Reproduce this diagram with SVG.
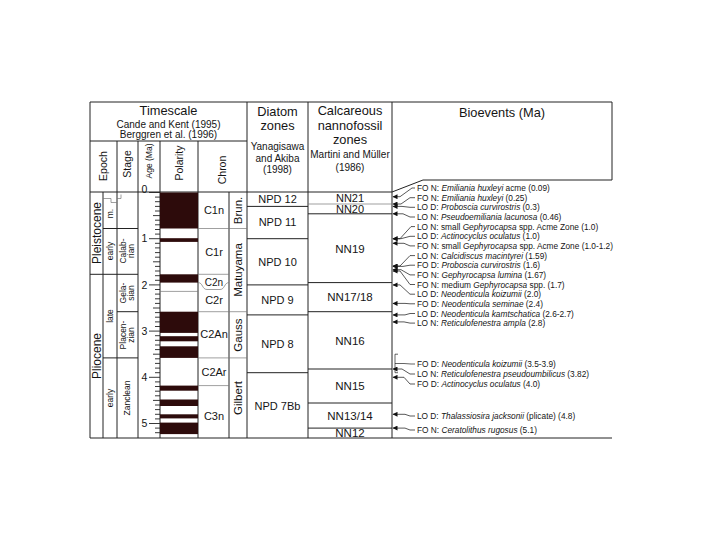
<svg xmlns="http://www.w3.org/2000/svg" width="720" height="540" viewBox="0 0 720 540">
<defs>
<style>
text{font-family:"Liberation Sans",Arial,sans-serif;fill:#151515;text-anchor:middle}
.ln{stroke:#222;stroke-width:1;fill:none}
.tl{stroke:#777;stroke-width:0.7;fill:none}
.tk{stroke:#222;stroke-width:0.9;fill:none}
.pol{fill:#2d0b0b}
.h1{font-size:12.8px}
.h2{font-size:10px}
.rh{font-size:10.5px}
.z{font-size:11px}
.nn{font-size:11.5px}
.ep{font-size:12px}
.pc{font-size:11.5px}
.sm{font-size:8.5px}
.ag{font-size:10.5px}
.ev{font-size:8.3px;text-anchor:start}
.lead{stroke:#111;stroke-width:0.7;fill:none;marker-start:url(#ah)}
</style>
<marker id="ah" viewBox="0 0 10 10" refX="1" refY="5" markerWidth="7" markerHeight="5" orient="auto" markerUnits="userSpaceOnUse">
<path d="M10,0 L0,5 L10,10 z" fill="#111"/>
</marker>
</defs>
<rect width="720" height="540" fill="#fff"/>

<g id="frame">
<path class="ln" d="M90,102H612V180 M90,102V438H612"/>
<path class="ln" d="M90,141H247 M90,192H392 M392,192L423,180H612"/>
<path class="ln" d="M247,102V438 M308,102V438 M392,102V438"/>
<path class="ln" d="M117,141V438 M138,141V438 M160,141V438 M198,141V438 M229,192V438 M103,192V438"/>
</g>

<g id="header">
<text class="h1" x="168.5" y="115">Timescale</text>
<text class="h2" x="168.5" y="127.5">Cande and Kent (1995)</text>
<text class="h2" x="168.5" y="138">Berggren et al. (1996)</text>
<text class="h1" x="277.5" y="115.5">Diatom</text>
<text class="h1" x="277.5" y="129.5">zones</text>
<text class="h2" x="277.5" y="150">Yanagisawa</text>
<text class="h2" x="277.5" y="161.5">and Akiba</text>
<text class="h2" x="277.5" y="173">(1998)</text>
<text class="h1" x="350" y="115">Calcareous</text>
<text class="h1" x="350" y="129.5">nannofossil</text>
<text class="h1" x="350" y="144">zones</text>
<text class="h2" x="350" y="158">Martini and Müller</text>
<text class="h2" x="350" y="170.5">(1986)</text>
<text class="h1" x="502" y="116.5">Bioevents (Ma)</text>
<text class="rh" transform="translate(103,166) rotate(-90)" dy=".35em">Epoch</text>
<text class="rh" transform="translate(127.5,164) rotate(-90)" dy=".35em">Stage</text>
<text class="sm" transform="translate(149,161) rotate(-90)" dy=".35em">Age (Ma)</text>
<text class="rh" transform="translate(179,163) rotate(-90)" dy=".35em">Polarity</text>
<text class="rh" transform="translate(222.5,170) rotate(-90)" dy=".35em">Chron</text>
</g>

<g id="epoch">
<path class="ln" d="M90,274.3H138 M103,228.5H138 M103,357.9H138 M117,311.7H138"/>
<path class="tl" d="M103,198.5H111V202.5H117 M117,198.5H121V194.5"/>
<text class="ep" transform="translate(96.5,233) rotate(-90)" dy=".35em">Pleistocene</text>
<text class="ep" transform="translate(96.5,356) rotate(-90)" dy=".35em">Pliocene</text>
<text class="sm" transform="translate(110,213.5) rotate(-90)" dy=".35em">m.</text>
<text class="sm" transform="translate(110,251) rotate(-90)" dy=".35em">early</text>
<text class="sm" transform="translate(110,316) rotate(-90)" dy=".35em">late</text>
<text class="sm" transform="translate(110,398) rotate(-90)" dy=".35em">early</text>
</g>

<g id="stage">
<text class="sm" transform="translate(123.5,251) rotate(-90)" dy=".35em">Calab-</text>
<text class="sm" transform="translate(131.5,251) rotate(-90)" dy=".35em">rian</text>
<text class="sm" transform="translate(123.5,293) rotate(-90)" dy=".35em">Gela-</text>
<text class="sm" transform="translate(131.5,293) rotate(-90)" dy=".35em">sian</text>
<text class="sm" transform="translate(123.5,335) rotate(-90)" dy=".35em">Placen-</text>
<text class="sm" transform="translate(131.5,335) rotate(-90)" dy=".35em">zian</text>
<text class="sm" transform="translate(127.5,398) rotate(-90)" dy=".35em">Zanclean</text>
</g>

<g id="age">
<path class="tk" d="M155,197.1h5M155,201.7h5M155,206.4h5M155,211h5M153,215.6h7M155,220.2h5M155,224.8h5M155,229.5h5M155,234.1h5M155,243.3h5M155,247.9h5M155,252.6h5M155,257.2h5M153,261.8h7M155,266.4h5M155,271h5M155,275.7h5M155,280.3h5M155,289.5h5M155,294.1h5M155,298.8h5M155,303.4h5M153,308h7M155,312.6h5M155,317.2h5M155,321.9h5M155,326.5h5M155,335.7h5M155,340.3h5M155,345h5M155,349.6h5M153,354.2h7M155,358.8h5M155,363.4h5M155,368.1h5M155,372.7h5M155,381.9h5M155,386.5h5M155,391.2h5M155,395.8h5M153,400.4h7M155,405h5M155,409.6h5M155,414.3h5M155,418.9h5M155,428.1h5M155,432.7h5"/>
<path class="tk" d="M149,192.5h11M149,238.7h11M149,284.9h11M149,331.1h11M149,377.3h11M149,423.5h11"/>
<text class="ag" x="144.5" y="189.5" dy=".35em">0</text>
<text class="ag" x="144.5" y="238.7" dy=".35em">1</text>
<text class="ag" x="144.5" y="284.9" dy=".35em">2</text>
<text class="ag" x="144.5" y="331.1" dy=".35em">3</text>
<text class="ag" x="144.5" y="377.3" dy=".35em">4</text>
<text class="ag" x="144.5" y="423.5" dy=".35em">5</text>
</g>

<g id="polarity">
<rect class="pol" x="160" y="192.5" width="38" height="36"/>
<rect class="pol" x="160" y="238.2" width="38" height="3.7"/>
<rect class="pol" x="160" y="274.3" width="38" height="8.3"/>
<rect class="pol" x="160" y="311.7" width="38" height="21.2"/>
<rect class="pol" x="160" y="336.2" width="38" height="5.1"/>
<rect class="pol" x="160" y="346.3" width="38" height="11.6"/>
<rect class="pol" x="160" y="385.6" width="38" height="5.1"/>
<rect class="pol" x="160" y="399.5" width="38" height="6.5"/>
<rect class="pol" x="160" y="414.3" width="38" height="4.1"/>
<rect class="pol" x="160" y="422.6" width="38" height="11.5"/>
<path class="tl" d="M160,291.4H198"/>
</g>

<g id="chron">
<path class="tl" d="M198,228.5H247 M198,274.3H229 M198,311.7H247 M198,357.9H247 M198,385.6H229"/>
<path class="tl" d="M198,282.6C203,282.6 202,289.5 207,289.5H220C225,289.5 224,282.6 229,282.6"/>
<text class="z" x="214" y="210.5" dy=".35em">C1n</text>
<text class="z" x="214" y="252" dy=".35em">C1r</text>
<text class="h2" x="214" y="282" dy=".35em">C2n</text>
<text class="z" x="214" y="300.5" dy=".35em">C2r</text>
<text class="z" x="214" y="334" dy=".35em">C2An</text>
<text class="z" x="214" y="372" dy=".35em">C2Ar</text>
<text class="z" x="214" y="416" dy=".35em">C3n</text>
<text class="pc" transform="translate(238,210.5) rotate(-90)" dy=".35em">Brun.</text>
<text class="pc" transform="translate(238,270) rotate(-90)" dy=".35em">Matuyama</text>
<text class="pc" transform="translate(238,335) rotate(-90)" dy=".35em">Gauss</text>
<text class="pc" transform="translate(238,398) rotate(-90)" dy=".35em">Gilbert</text>
</g>

<g id="diatom-zones">
<path class="ln" d="M247,206.4H308 M247,238.7H308 M247,284.9H308 M247,314.9H308 M247,372.7H308"/>
<text class="z" x="277.5" y="199.5" dy=".35em">NPD 12</text>
<text class="z" x="277.5" y="222.5" dy=".35em">NPD 11</text>
<text class="z" x="277.5" y="262" dy=".35em">NPD 10</text>
<text class="z" x="277.5" y="300.5" dy=".35em">NPD 9</text>
<text class="z" x="277.5" y="344.5" dy=".35em">NPD 8</text>
<text class="z" x="277.5" y="406" dy=".35em">NPD 7Bb</text>
</g>

<g id="nannofossil-zones">
<path class="tl" d="M308,204H392"/>
<path class="ln" d="M308,213.8H392 M308,282.6H392 M308,311.7H392 M308,369H392 M308,403H392 M308,428.1H392"/>
<text class="z" x="350" y="198.3" dy=".35em">NN21</text>
<text class="z" x="350" y="209" dy=".35em">NN20</text>
<text class="nn" x="350" y="249" dy=".35em">NN19</text>
<text class="nn" x="350" y="297" dy=".35em">NN17/18</text>
<text class="nn" x="350" y="340.5" dy=".35em">NN16</text>
<text class="nn" x="350" y="386" dy=".35em">NN15</text>
<text class="nn" x="350" y="415.5" dy=".35em">NN13/14</text>
<text class="nn" x="350" y="433" dy=".35em">NN12</text>
</g>

<g id="connectors">
<path class="lead" d="M393,196.7H400L412,188H415"/>
<path class="lead" d="M393,204H401L410,197.7H415"/>
<path class="lead" d="M393,206.4H402L410,207.3H415"/>
<path class="lead" d="M393,213.8H403L410,217H415"/>
<path class="lead" d="M393,238.7H400L411,226.6H415"/>
<path class="lead" d="M393,238.7H401L410,236.3H415"/>
<path class="lead" d="M393,243.3H404L410,245.9H415"/>
<path class="lead" d="M393,266H400L410,255.6H415"/>
<path class="lead" d="M393,266.4H403L410,265.2H415"/>
<path class="lead" d="M393,269.7H401L410,274.9H415"/>
<path class="lead" d="M393,271H400L410,284.5H415"/>
<path class="lead" d="M393,284.9H400L410,294.2H415"/>
<path class="lead" d="M393,303.4H405L410,303.8H415"/>
<path class="lead" d="M393,314.9H405L410,313.5H415"/>
<path class="lead" d="M393,321.9H404L410,323.1H415"/>
<path class="ln" style="stroke-width:0.7" d="M398,354.2H395V372.7H398 M395,363.5H404L411,364H415"/>
<path class="lead" d="M393,369H402L410,374H415"/>
<path class="lead" d="M393,377.3H404L410,384H415"/>
<path class="lead" d="M393,414.3H405L410,416H415"/>
<path class="lead" d="M393,428.1H405L410,430H415"/>
</g>

<g id="bioevents">
<text class="ev" x="417" y="191">FO N: <tspan font-style="italic">Emiliania huxleyi</tspan> acme (0.09)</text>
<text class="ev" x="417" y="200.7">FO N: <tspan font-style="italic">Emiliania huxleyi</tspan> (0.25)</text>
<text class="ev" x="417" y="210.3">LO D: <tspan font-style="italic">Proboscia curvirostris</tspan> (0.3)</text>
<text class="ev" x="417" y="220">LO N: <tspan font-style="italic">Pseudoemiliania lacunosa</tspan> (0.46)</text>
<text class="ev" x="417" y="229.6">LO N: small <tspan font-style="italic">Gephyrocapsa</tspan> spp. Acme Zone (1.0)</text>
<text class="ev" x="417" y="239.3">LO D: <tspan font-style="italic">Actinocyclus oculatus</tspan> (1.0)</text>
<text class="ev" x="417" y="248.9">FO N: small <tspan font-style="italic">Gephyrocapsa</tspan> spp. Acme Zone (1.0-1.2)</text>
<text class="ev" x="417" y="258.6">LO N: <tspan font-style="italic">Calcidiscus macintyrei</tspan> (1.59)</text>
<text class="ev" x="417" y="268.2">FO D: <tspan font-style="italic">Proboscia curvirostris</tspan> (1.6)</text>
<text class="ev" x="417" y="277.9">FO N: <tspan font-style="italic">Gephyrocapsa lumina</tspan> (1.67)</text>
<text class="ev" x="417" y="287.5">FO N: medium <tspan font-style="italic">Gephyrocapsa</tspan> spp. (1.7)</text>
<text class="ev" x="417" y="297.2">LO D: <tspan font-style="italic">Neodenticula koizumii</tspan> (2.0)</text>
<text class="ev" x="417" y="306.8">FO D: <tspan font-style="italic">Neodenticula seminae</tspan> (2.4)</text>
<text class="ev" x="417" y="316.5">LO D: <tspan font-style="italic">Neodenticula kamtschatica</tspan> (2.6-2.7)</text>
<text class="ev" x="417" y="326.1">LO N: <tspan font-style="italic">Reticulofenestra ampla</tspan> (2.8)</text>
<text class="ev" x="417" y="367">FO D: <tspan font-style="italic">Neodenticula koizumii</tspan> (3.5-3.9)</text>
<text class="ev" x="417" y="377">LO N: <tspan font-style="italic">Reticulofenestra pseudoumbilicus</tspan> (3.82)</text>
<text class="ev" x="417" y="387">FO D: <tspan font-style="italic">Actinocyclus oculatus</tspan> (4.0)</text>
<text class="ev" x="417" y="419">LO D: <tspan font-style="italic">Thalassiosira jacksonii</tspan> (plicate) (4.8)</text>
<text class="ev" x="417" y="433">FO N: <tspan font-style="italic">Ceratolithus rugosus</tspan> (5.1)</text>
</g>
</svg>
